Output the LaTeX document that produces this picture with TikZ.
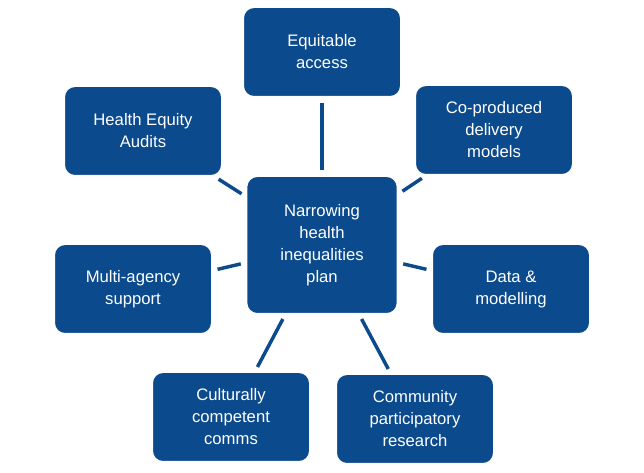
\documentclass[tikz,border=0pt]{standalone}
\usepackage{fontspec}
\setmainfont{Liberation Sans}
\definecolor{nb}{HTML}{0B4A8C}
\begin{document}
\begin{tikzpicture}[x=0.75pt,y=-0.75pt,
 box/.style={draw=white,line width=1pt,fill=nb,rounded corners=8pt,text=white,align=center,font=\fontsize{12.5}{16.5}\selectfont,minimum width=118pt,minimum height=67pt,inner sep=2pt},
 cbox/.style={box,minimum width=113pt,minimum height=103pt},
 link/.style={draw=nb,line width=2.6pt,shorten >=4pt,shorten <=4pt}]
\useasboundingbox (0,0) rectangle (644,473);
\node[cbox] (c) at (322,245) {Narrowing\\health\\inequalities\\plan};
\node[box] (a) at (322,52) {Equitable\\access};
\node[box] (b) at (494,130) {Co-produced\\delivery\\models};
\node[box] (d) at (511,289) {Data \&\\modelling};
\node[box] (e) at (415,419) {Community\\participatory\\research};
\node[box] (f) at (231,417) {Culturally\\competent\\comms};
\node[box] (g) at (133,289) {Multi-agency\\support};
\node[box] (h) at (143,131) {Health Equity\\Audits};
\foreach \n in {a,b,d,e,f,g,h} \draw[link] (c) -- (\n);
\end{tikzpicture}
\end{document}
